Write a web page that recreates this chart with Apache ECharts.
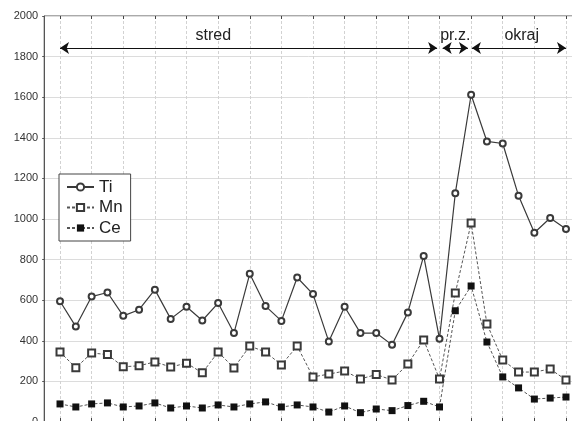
<!DOCTYPE html>
<html>
<head>
<meta charset="utf-8">
<script src="https://cdn.jsdelivr.net/npm/echarts@6/dist/echarts.min.js"></script>
<style>
  html, body { margin: 0; padding: 0; background: #fff; }
  #chart { width: 572px; height: 421px; }
</style>
</head>
<body>
<div id="chart"></div>
<script>
// Element contents along the profile (33 sampling points)
const tiValues = [595, 470, 618, 638, 523, 553, 652, 508, 568, 500, 586, 438, 730, 571, 498, 712, 630, 396, 568, 438, 438, 380, 540, 818, 410, 1127, 1612, 1382, 1372, 1114, 932, 1005, 951];
const mnValues = [345, 267, 340, 332, 272, 277, 296, 271, 290, 242, 345, 266, 374, 345, 281, 374, 222, 236, 251, 212, 234, 207, 286, 404, 212, 635, 980, 483, 305, 246, 246, 261, 207];
const ceValues = [89, 74, 89, 94, 74, 79, 94, 69, 79, 69, 84, 74, 89, 99, 74, 84, 74, 49, 79, 46, 64, 56, 81, 102, 74, 548, 670, 394, 222, 168, 113, 118, 123];

// y axis ticks
const yTicks = { min: 0, max: 2000, step: 200 };

// Zones marked above the profile (x in sample-position units)
const zoneNames = ['stred', 'pr.z.', 'okraj'];
const zoneFrom = [1, 25.2, 27.05];
const zoneTo = [24.85, 26.8, 33];
const zoneLabelX = [10.7, 26, 30.2];
const zoneLineLevel = 1842;
const zoneLabelLevel = 1905;

// slot positions on the horizontal axis (0 .. 34), samples sit on 1 .. 33
const slots = Array.from({ length: 35 }, (_, k) => String(k));

const toPairs = vals => vals.map((v, i) => [i + 1, v]);

const chart = echarts.init(document.getElementById('chart'), null, { renderer: 'canvas' });

const labelFont = 'Liberation Sans, Arial, sans-serif';
const oddSlot = (index) => index % 2 === 1;

chart.setOption({
  animation: false,
  backgroundColor: '#ffffff',
  grid: {
    left: 44.2, top: 16, width: 537.6, height: 406,
    outerBoundsMode: 'none',
    containLabel: false,
    show: true, borderColor: '#555', borderWidth: 1, backgroundColor: 'transparent'
  },
  xAxis: [
    {
      type: 'value', min: 0, max: 34,
      show: false
    },
    {
      type: 'category', data: slots, boundaryGap: false, position: 'bottom',
      axisLine: { show: false },
      axisLabel: { show: false },
      axisTick: { show: true, inside: true, length: 4, interval: oddSlot, lineStyle: { color: '#444' } },
      splitLine: { show: true, interval: oddSlot, lineStyle: { color: '#d2d2d2', type: [3, 2], width: 1 } }
    },
    {
      type: 'category', data: slots, boundaryGap: false, position: 'top',
      axisLine: { show: false },
      axisLabel: { show: false },
      axisTick: { show: true, inside: true, length: 3, interval: oddSlot, lineStyle: { color: '#444' } },
      splitLine: { show: false }
    }
  ],
  yAxis: {
    type: 'value', min: yTicks.min, max: yTicks.max, interval: yTicks.step,
    axisLine: { show: true, lineStyle: { color: '#555' } },
    axisTick: { show: true, inside: false, length: 2, lineStyle: { color: '#555' } },
    axisLabel: { color: '#333', fontSize: 11, fontFamily: labelFont, margin: 6, formatter: v => String(v) },
    splitLine: { show: true, lineStyle: { color: '#dcdcdc', width: 1 } }
  },
  legend: {
    orient: 'vertical', left: 59, top: 174,
    backgroundColor: '#fff', borderColor: '#444', borderWidth: 1, borderRadius: 0,
    padding: [4.5, 8, 4.5, 7], itemGap: 3.5, itemWidth: 27, itemHeight: 9,
    textStyle: { fontSize: 17, color: '#222', fontFamily: labelFont },
    data: ['Ti', 'Mn', 'Ce']
  },
  series: [
    {
      name: 'Ti', type: 'line', xAxisIndex: 0, data: toPairs(tiValues),
      symbol: 'emptyCircle', symbolSize: 6,
      lineStyle: { color: '#3a3a3a', width: 1.2, type: 'solid' },
      itemStyle: { color: '#3a3a3a', borderWidth: 1 },
      z: 4,
      markLine: {
        silent: true, symbol: ['arrow', 'arrow'], symbolSize: 9,
        lineStyle: { color: '#111', type: 'solid', width: 1 },
        label: { show: false },
        data: zoneNames.map((n, k) => [
          { coord: [zoneFrom[k], zoneLineLevel] },
          { coord: [zoneTo[k], zoneLineLevel] }
        ])
      },
      markPoint: {
        silent: true, symbol: 'circle', symbolSize: 0,
        itemStyle: { color: 'transparent' },
        label: { show: true, position: 'inside', color: '#222', fontSize: 16, fontFamily: labelFont, formatter: p => p.name },
        data: zoneNames.map((n, k) => ({ name: n, coord: [zoneLabelX[k], zoneLabelLevel] }))
      }
    },
    {
      name: 'Mn', type: 'line', xAxisIndex: 0, data: toPairs(mnValues),
      symbol: 'emptyRect', symbolSize: 7,
      lineStyle: { color: '#555', width: 1, type: [3, 2] },
      itemStyle: { color: '#3a3a3a', borderWidth: 1 },
      z: 3
    },
    {
      name: 'Ce', type: 'line', xAxisIndex: 0, data: toPairs(ceValues),
      symbol: 'rect', symbolSize: 7,
      lineStyle: { color: '#555', width: 1, type: [3, 2] },
      itemStyle: { color: '#111' },
      z: 3
    }
  ]
});
</script>
</body>
</html>
